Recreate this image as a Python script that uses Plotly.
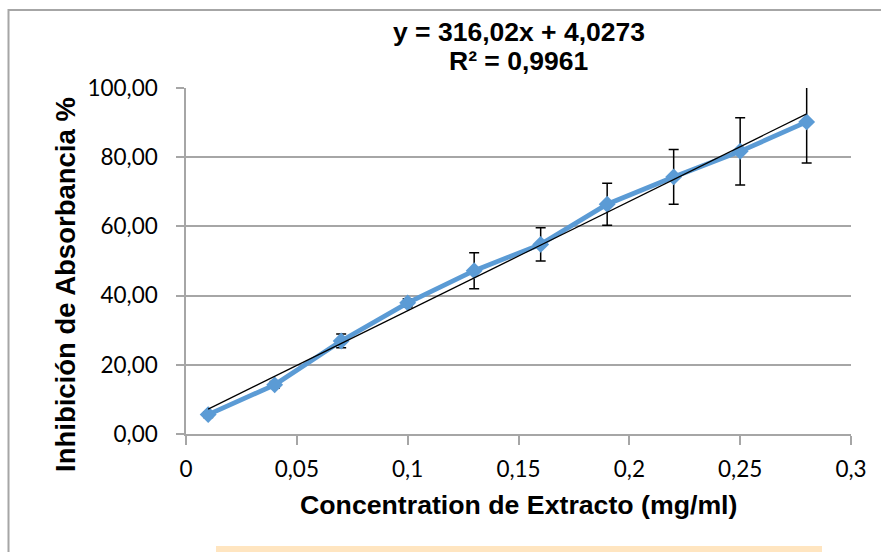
import plotly.graph_objects as go

# Data
concentration = [0.01, 0.04, 0.07, 0.10, 0.13, 0.16, 0.19, 0.22, 0.25, 0.28]
inhibition = [5.6, 14.2, 26.9, 37.9, 47.2, 54.8, 66.4, 74.3, 81.7, 90.2]
error = [0.8, 1.0, 2.0, 1.2, 5.2, 4.8, 6.1, 7.9, 9.7, 11.9]
slope = 316.02
intercept = 4.0273
r2_text = "R² = 0,9961"
eq_text = "y = 316,02x + 4,0273"
x_ticks = [0, 0.05, 0.1, 0.15, 0.2, 0.25, 0.3]
y_ticks = [0, 20, 40, 60, 80, 100]

trend_x = [concentration[0], concentration[-1]]
trend_y = [slope * v + intercept for v in trend_x]

fig = go.Figure()
fig.add_trace(go.Scatter(
    x=concentration, y=inhibition, mode="lines+markers",
    line=dict(color="#5B9BD5", width=4.8),
    marker=dict(symbol="diamond", size=13, color="#5B9BD5"),
    error_y=dict(type="data", array=error, visible=True, color="black", thickness=1.5, width=5),
    showlegend=False,
))
fig.add_trace(go.Scatter(
    x=trend_x, y=trend_y, mode="lines",
    line=dict(color="black", width=1.2), showlegend=False,
))

grid = "#A6A6A6"
# plot area in window pixels: left 186, right 851, top 88, bottom 434
fig.update_layout(
    width=881, height=552,
    margin=dict(l=186, r=30, t=88, b=118),
    paper_bgcolor="white", plot_bgcolor="white",
    separators=",.",
    font=dict(family="Lato", size=22.5, color="black"),
    xaxis=dict(range=[0, 0.3], tickvals=x_ticks, showgrid=False, zeroline=False,
               showline=True, linecolor=grid, linewidth=1.5,
               ticks="outside", ticklen=9, tickcolor=grid, tickwidth=1.5,
               tickfont=dict(family="Lato", size=22.5), ticklabelstandoff=5),
    yaxis=dict(range=[0, 100], tickvals=y_ticks, tickformat=".2f", showgrid=True,
               gridcolor=grid, gridwidth=1.5, zeroline=False,
               showline=True, linecolor=grid, linewidth=1.5,
               ticks="outside", ticklen=8, tickcolor=grid, tickwidth=1.5,
               tickfont=dict(family="Lato", size=22.5), ticklabelstandoff=14),
    shapes=[
        dict(type="rect", xref="paper", yref="paper", x0=(8.5 - 186) / 665, x1=1.1,
             y0=-0.5, y1=(434 - 10) / 346,
             line=dict(color="#A6A6A6", width=2), fillcolor="rgba(0,0,0,0)", layer="below"),
        dict(type="rect", xref="paper", yref="paper", x0=(216 - 186) / 665, x1=(822 - 186) / 665,
             y0=-0.40, y1=(434 - 546) / 346,
             line=dict(width=0), fillcolor="#FFE5C0", layer="below"),
    ],
    annotations=[
        dict(text="<b>" + eq_text + "</b>", xref="paper", yref="paper", x=0.5, y=(434 - 32) / 346,
             xanchor="center", yanchor="middle", showarrow=False,
             font=dict(family="Liberation Sans", size=26.5, color="black")),
        dict(text="<b>" + r2_text + "</b>", xref="paper", yref="paper", x=0.5, y=(434 - 61) / 346,
             xanchor="center", yanchor="middle", showarrow=False,
             font=dict(family="Liberation Sans", size=26.5, color="black")),
        dict(text="<b>Concentration de Extracto (mg/ml)</b>", xref="paper", yref="paper",
             x=0.5, y=(434 - 505) / 346, xanchor="center", yanchor="middle", showarrow=False,
             font=dict(family="Liberation Sans", size=26.7, color="black")),
        dict(text="<b>Inhibición de Absorbancia %</b>", xref="paper", yref="paper",
             x=(65 - 186) / 665, y=(434 - 285) / 346, xanchor="center", yanchor="middle",
             showarrow=False, textangle=-90,
             font=dict(family="Liberation Sans", size=27.5, color="black")),
    ],
)

fig.write_html(
    "out.html",
    config={"displayModeBar": False},
    post_script="document.body.style.margin='0';document.body.style.overflow='hidden';",
)
